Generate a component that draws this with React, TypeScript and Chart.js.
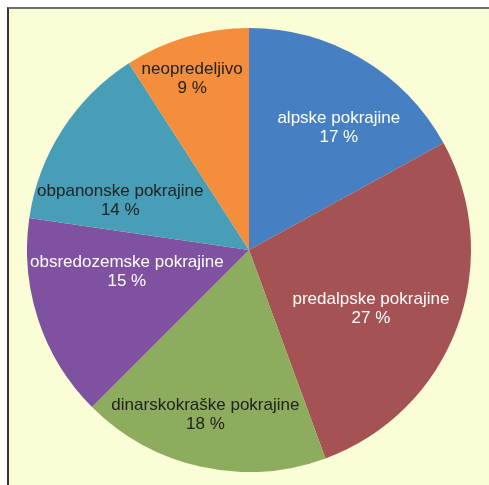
import React, { useEffect, useRef } from "react";
import { Chart, registerables } from "chart.js";

Chart.register(...registerables);

const categories = [
  "alpske pokrajine",
  "predalpske pokrajine",
  "dinarskokraške pokrajine",
  "obsredozemske pokrajine",
  "obpanonske pokrajine",
  "neopredeljivo",
];
const shares = [17.0, 27.4, 18.1, 14.8, 13.6, 9.1];
const percentLabels = ["17 %", "27 %", "18 %", "15 %", "14 %", "9 %"];

const sliceColors = ["#4680c3", "#a55254", "#8dac5d", "#7f51a1", "#489db7", "#f48d3c"];
const labelColors = ["#ffffff", "#ffffff", "#222222", "#ffffff", "#222222", "#222222"];
// label placement: angular offset from slice middle (degrees) and radial fraction
const labelAngleOffset = [5.8, 5.1, 2.4, 8.2, -11.8, -2.0];
const labelRadiusFrac = [0.682, 0.609, 0.768, 0.559, 0.621, 0.812];

const labelPlugin = {
  id: "sliceLabels",
  afterDatasetsDraw(chart: any) {
    const ctx = chart.ctx;
    const meta = chart.getDatasetMeta(0);
    ctx.save();
    ctx.font = '17px "Liberation Sans", Arial, sans-serif';
    ctx.textAlign = "center";
    ctx.textBaseline = "middle";
    meta.data.forEach((arc: any, i: number) => {
      const p = arc.getProps(["x", "y", "startAngle", "endAngle", "outerRadius"], true);
      const mid = (p.startAngle + p.endAngle) / 2 + (labelAngleOffset[i] * Math.PI) / 180;
      const r = p.outerRadius * labelRadiusFrac[i];
      const x = p.x + Math.cos(mid) * r;
      const y = p.y + Math.sin(mid) * r;
      ctx.fillStyle = labelColors[i];
      ctx.fillText(categories[i], x, y - 9.5);
      ctx.fillText(percentLabels[i], x, y + 9.5);
    });
    ctx.restore();
  },
};

export default function App() {
  const ref = useRef<HTMLCanvasElement>(null);
  useEffect(() => {
    document.body.style.margin = "0";
    const chart = new Chart(ref.current as HTMLCanvasElement, {
      type: "pie",
      data: {
        labels: categories,
        datasets: [
          {
            data: shares,
            backgroundColor: sliceColors,
            borderWidth: 0,
          },
        ],
      },
      options: {
        responsive: false,
        animation: false,
        layout: { padding: 0 },
        plugins: {
          legend: { display: false },
          tooltip: { enabled: false },
        },
      },
      plugins: [labelPlugin],
    });
    return () => chart.destroy();
  }, []);

  return (
    <div
      style={{
        position: "absolute",
        left: 7,
        top: 7,
        width: 500,
        height: 500,
        background: "#fafdd6",
        borderTop: "2px solid #6e6e6e",
        borderLeft: "2px solid #333333",
        boxSizing: "border-box",
        overflow: "hidden",
      }}
    >
      <canvas
        ref={ref}
        width={444}
        height={444}
        style={{ position: "absolute", left: 18, top: 19, width: 444, height: 444 }}
      />
    </div>
  );
}
